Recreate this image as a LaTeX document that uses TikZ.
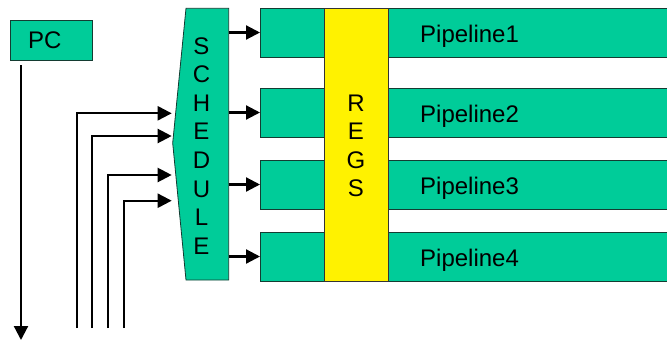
\documentclass[tikz,border=0pt]{standalone}
\usepackage{fontspec}
\setmainfont{Liberation Sans}
\usetikzlibrary{arrows.meta}
\definecolor{boxgreen}{RGB}{0,204,153}
\definecolor{edgedark}{RGB}{20,60,50}
\tikzset{
  box/.style={draw=edgedark, line width=0.8pt, fill=boxgreen, inner sep=0pt},
  regbox/.style={draw=black!80, line width=0.8pt, fill=yellow, inner sep=0pt},
  txt/.style={inner sep=0pt, font=\fontsize{24}{28}\selectfont},
  conn/.style={line width=2.2pt, -{Triangle[length=14pt,width=14pt]}},
  wire/.style={line width=2.2pt}
}
\begin{document}
\begin{tikzpicture}[x=1pt,y=-1pt]
\useasboundingbox (0,0) rectangle (667,341);
% PC
\node[box, minimum width=82pt, minimum height=40pt, anchor=north west] (pc) at (10,20) {};
\node[txt, anchor=base west] (pctext) at (28,48) {PC};
\coordinate (pcout) at (21,65);
\coordinate (pcend) at (21,340);
\draw[conn] (pcout) -- (pcend);
% Pipelines
\foreach \i/\y in {1/8,2/88.3,3/160,4/232}{
  \node[box, minimum width=410pt, minimum height=49pt, anchor=north west] (p\i) at (260,\y) {};
}
% REGS
\node[regbox, minimum width=64pt, minimum height=273pt, anchor=north west] (regs) at (324.3,8) {};
\foreach \c [count=\k] in {R,E,G,S}{
  \node[txt, anchor=base] (r\k) at (356,{111+(\k-1)*28.6}) {\c};
}
\foreach \i/\yb in {1/42,2/122,3/194,4/266}{
  \node[txt, anchor=base west] (pl\i) at (420,\yb) {Pipeline\i};
}
% SCHEDULE
\coordinate (stl) at (186,8.3);
\coordinate (str) at (228.7,8.3);
\coordinate (sbr) at (228.7,280);
\coordinate (sbl) at (186,280);
\coordinate (slp) at (172.7,143);
\draw[box] (stl) -- (str) -- (sbr) -- (sbl) -- (slp) -- cycle;
\foreach \c [count=\k] in {S,C,H,E,D,U,L,E}{
  \node[txt, anchor=base] (s\k) at (201.5,{54+(\k-1)*28.6}) {\c};
}
% schedule outputs
\foreach \i/\y in {1/32.5,2/112.5,3/184.5,4/256.5}{
  \coordinate (so\i) at (228.7,\y);
  \draw[conn] (so\i) -- (p\i.west |- so\i);
}
% inputs
\foreach \i/\x/\y in {1/76.7/113.3,2/92.3/136,3/108.3/175,4/124.3/200.7}{
  \coordinate (ib\i) at (\x,328);
  \coordinate (ic\i) at (\x,\y);
  \coordinate (it\i) at (171.7,\y);
  \draw[conn, rounded corners=0pt] (ib\i) -- (ic\i) -- (it\i);
}
\end{tikzpicture}
\end{document}
